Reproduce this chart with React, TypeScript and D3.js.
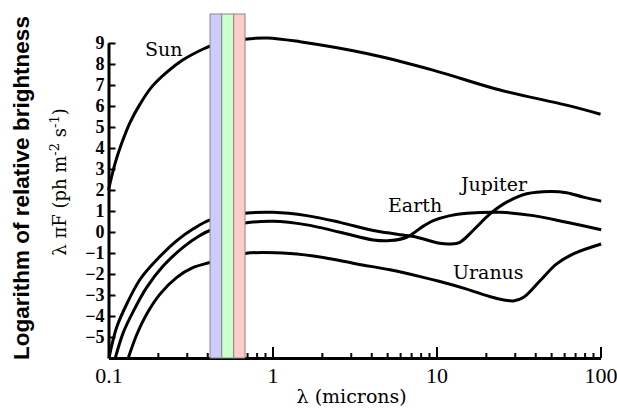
import React, { useEffect, useRef } from "react";
import * as d3 from "d3";

// wavelength (microns) and log brightness
const sunLambda = [0.1, 0.11, 0.12, 0.135, 0.156, 0.183, 0.226, 0.285, 0.387, 0.42, 0.68, 0.93, 1.47, 3.75, 9.5, 24.4, 62, 100];
const sunFlux = [2.0, 3.3, 4.2, 5.2, 6.1, 6.9, 7.6, 8.2, 8.75, 8.86, 9.18, 9.24, 9.06, 8.5, 7.71, 6.76, 6.04, 5.61];

const jupiterLambda = [0.1007, 0.112, 0.129, 0.156, 0.197, 0.261, 0.329, 0.416, 0.679, 1.01, 1.62, 2.58, 4.12, 6.58, 7.6, 10.5, 12.1, 13.9, 16.7, 21.2, 26.8, 35.5, 49.2, 62.2, 78.6, 101];
const jupiterFlux = [-6.0, -4.55, -3.44, -2.25, -1.32, -0.41, 0.15, 0.58, 0.89, 0.94, 0.78, 0.46, 0.07, -0.17, -0.25, -0.54, -0.57, -0.49, 0.07, 0.86, 1.42, 1.82, 1.93, 1.87, 1.66, 1.47];

const earthLambda = [0.11, 0.123, 0.142, 0.171, 0.216, 0.286, 0.361, 0.416, 0.679, 1.01, 1.62, 2.58, 4.12, 5.2, 6.58, 8.31, 9.56, 12.1, 15.3, 24.4, 38.9, 62.2, 101];
const earthFlux = [-6.0, -4.79, -3.76, -2.64, -1.61, -0.72, -0.17, 0.07, 0.43, 0.51, 0.34, -0.01, -0.38, -0.41, -0.25, 0.28, 0.54, 0.78, 0.89, 0.94, 0.78, 0.46, 0.11];

const uranusLambda = [0.132, 0.149, 0.171, 0.206, 0.261, 0.329, 0.416, 0.679, 1.28, 2.04, 3.26, 5.2, 8.31, 10.5, 15.3, 22.2, 29.4, 33.8, 42.8, 54.0, 68.3, 101];
const uranusFlux = [-6.0, -4.87, -3.91, -2.96, -2.16, -1.69, -1.45, -1.02, -1.02, -1.21, -1.52, -1.8, -2.16, -2.36, -2.72, -3.12, -3.28, -3.12, -2.32, -1.52, -1.04, -0.57];

const planetNames = ["Sun", "Earth", "Jupiter", "Uranus"];
const xMajorTicks = [0.1, 1, 10, 100];
const xTickLabels = ["0.1", "1", "10", "100"];
const yTicks = [-5, -4, -3, -2, -1, 0, 1, 2, 3, 4, 5, 6, 7, 8, 9];

// visible band: blue / green / red
const bandEdges = [0.416, 0.49, 0.58, 0.68];
const bandColors = ["#ccccff", "#ccffcc", "#ffcccc"];

const App = () => {
  const svgRef = useRef(null);

  useEffect(() => {
    const width = 617;
    const height = 409;
    const serif = "'DejaVu Serif', serif";
    const tickFont = "'Liberation Serif', 'Times New Roman', serif";

    const x = d3.scaleLog().domain([0.1, 100]).range([108.5, 600.5]);
    const y = d3.scaleLinear().domain([-6, 9]).range([358, 43]);

    const svg = d3.select(svgRef.current);
    svg.selectAll("*").remove();
    svg.attr("width", width).attr("height", height);

    const series = [
      { name: "Sun", lambda: sunLambda, flux: sunFlux },
      { name: "Jupiter", lambda: jupiterLambda, flux: jupiterFlux },
      { name: "Earth", lambda: earthLambda, flux: earthFlux },
      { name: "Uranus", lambda: uranusLambda, flux: uranusFlux },
    ];

    svg
      .append("clipPath")
      .attr("id", "plot-clip")
      .append("rect")
      .attr("x", x(0.1) - 6)
      .attr("y", 0)
      .attr("width", x(100) - x(0.1) + 12)
      .attr("height", y(-6));

    const line = d3
      .line()
      .x((d) => x(d[0]))
      .y((d) => y(d[1]))
      .curve(d3.curveCatmullRom.alpha(0.5));

    svg
      .append("g")
      .attr("clip-path", "url(#plot-clip)")
      .selectAll("path")
      .data(series)
      .enter()
      .append("path")
      .attr("d", (s) => line(s.lambda.map((l, i) => [l, s.flux[i]])))
      .attr("fill", "none")
      .attr("stroke", "#000")
      .attr("stroke-width", 3)
      .attr("stroke-linejoin", "round");

    // Minor x ticks
    const minorTicks = [];
    [0.1, 1, 10].forEach((d) => {
      for (let k = 2; k <= 9; k++) minorTicks.push(d * k);
    });

    const xMinor = svg
      .append("g")
      .attr("transform", `translate(0, ${y(-6)})`)
      .call(d3.axisBottom(x).tickValues(minorTicks).tickSize(-5).tickFormat(() => ""));
    xMinor.select(".domain").remove();
    xMinor.selectAll("line").attr("stroke", "#000").attr("stroke-width", 2);

    const xMajor = svg
      .append("g")
      .attr("transform", `translate(0, ${y(-6)})`)
      .call(
        d3
          .axisBottom(x)
          .tickValues(xMajorTicks)
          .tickSize(-11)
          .tickSizeOuter(0)
          .tickPadding(9)
          .tickFormat((d, i) => xTickLabels[i])
      );
    xMajor.select(".domain").attr("stroke", "#000").attr("stroke-width", 3);
    xMajor.selectAll("line").attr("stroke", "#000").attr("stroke-width", 2);
    xMajor
      .selectAll("text")
      .attr("font-family", tickFont)
      .attr("font-size", 22)
      .attr("fill", "#000");

    const yAxis = svg
      .append("g")
      .attr("transform", `translate(${x(0.1)}, 0)`)
      .call(d3.axisLeft(y).tickValues(yTicks).tickSize(-7).tickSizeOuter(0).tickPadding(4));
    yAxis.select(".domain").attr("stroke", "#000").attr("stroke-width", 3);
    yAxis.selectAll("line").attr("stroke", "#000").attr("stroke-width", 2);
    yAxis
      .selectAll("text")
      .attr("font-family", tickFont)
      .attr("font-size", 18)
      .attr("font-weight", "bold")
      .attr("fill", "#000");

    // Visible band drawn on top of the curves
    svg
      .append("g")
      .selectAll("rect")
      .data(bandColors)
      .enter()
      .append("rect")
      .attr("x", (c, i) => x(bandEdges[i]))
      .attr("y", 14)
      .attr("width", (c, i) => x(bandEdges[i + 1]) - x(bandEdges[i]))
      .attr("height", y(-6) - 14)
      .attr("fill", (c) => c)
      .attr("stroke", "#888")
      .attr("stroke-width", 1);

    // Curve labels
    const labelAt = [
      [0.167, 8.36],
      [5.06, 0.95],
      [14.1, 1.93],
      [12.6, -2.23],
    ];
    svg
      .append("g")
      .selectAll("text")
      .data(planetNames)
      .enter()
      .append("text")
      .attr("x", (d, i) => x(labelAt[i][0]))
      .attr("y", (d, i) => y(labelAt[i][1]))
      .attr("font-family", serif)
      .attr("font-size", 19)
      .text((d) => d);

    // Axis titles
    svg
      .append("text")
      .attr("x", 351.7)
      .attr("y", 403)
      .attr("text-anchor", "middle")
      .attr("font-family", serif)
      .attr("font-size", 19)
      .text("λ (microns)");

    svg
      .append("text")
      .attr("transform", "translate(29, 188) rotate(-90)")
      .attr("text-anchor", "middle")
      .attr("font-family", "'Liberation Sans', Arial, sans-serif")
      .attr("font-weight", "bold")
      .attr("font-size", 22.5)
      .text("Logarithm of relative brightness");

    const unit = svg
      .append("text")
      .attr("transform", "translate(66, 182) rotate(-90)")
      .attr("text-anchor", "middle")
      .attr("font-family", serif)
      .attr("font-size", 18);
    unit.append("tspan").text("λ πF (ph m");
    unit.append("tspan").attr("dy", -7).attr("font-size", 13).text("-2");
    unit.append("tspan").attr("dy", 7).text(" s");
    unit.append("tspan").attr("dy", -7).attr("font-size", 13).text("-1");
    unit.append("tspan").attr("dy", 7).text(")");
  }, []);

  return <svg ref={svgRef} style={{ position: "absolute", left: 0, top: 0, background: "#fff" }}></svg>;
};

export default App;
